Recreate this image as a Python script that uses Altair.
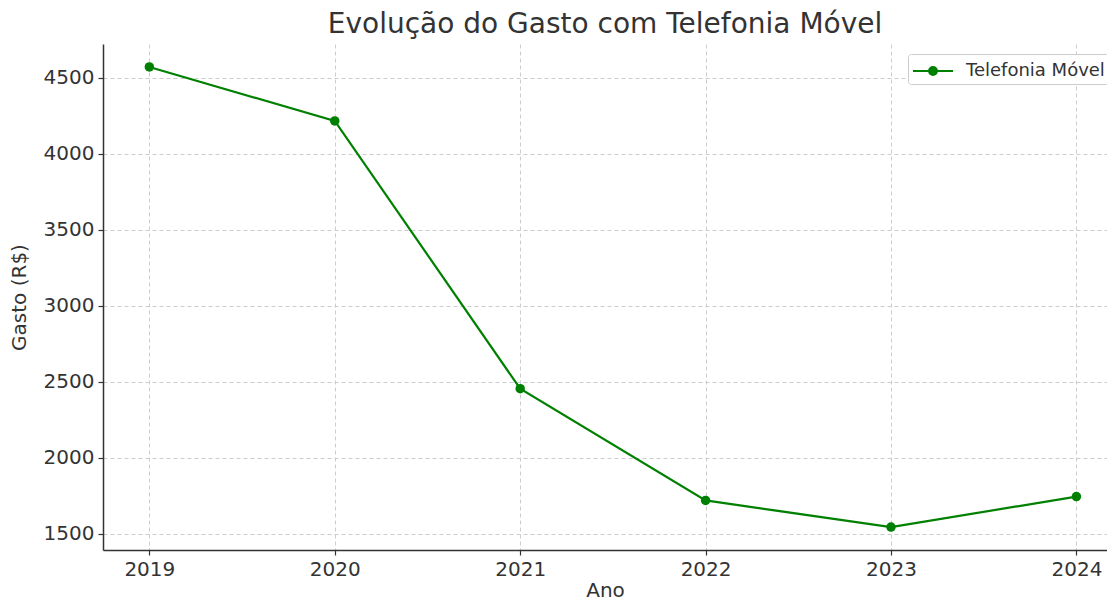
import altair as alt
import pandas as pd

anos = [2019, 2020, 2021, 2022, 2023, 2024]
gasto = [4570, 4215, 2455, 1720, 1545, 1745]
serie = ["Telefonia Móvel"] * len(anos)

df = pd.DataFrame({"Ano": anos, "Gasto": gasto, "Serie": serie})

FONT = "DejaVu Sans"
GREEN = "#008000"
TXT = "#333333"

x = alt.X("Ano:Q", scale=alt.Scale(domain=[2018.75, 2024.165], nice=False, zero=False),
          axis=alt.Axis(values=anos, format="d", title="Ano"))
y = alt.Y("Gasto:Q", scale=alt.Scale(domain=[1394, 4721], nice=False, zero=False),
          axis=alt.Axis(values=[1500, 2000, 2500, 3000, 3500, 4000, 4500], format="d",
                        title="Gasto (R$)"))
color = alt.Color("Serie:N", scale=alt.Scale(range=[GREEN]),
                  legend=alt.Legend(title=None, orient="none", legendX=805, legendY=10,
                                    symbolType="M -1.67 0 L -0.33 0 M 0.33 0 L 1.67 0 M 0.33 0 A 0.33 0.33 0 1 1 -0.33 0 A 0.33 0.33 0 1 1 0.33 0",
                                    symbolSize=576, symbolStrokeWidth=2,
                                    symbolOffset=8,
                                    symbolFillColor=GREEN, symbolStrokeColor=GREEN,
                                    labelFont=FONT, labelFontSize=18, labelColor=TXT,
                                    strokeColor="#cccccc", fillColor="white", cornerRadius=3,
                                    padding=4, rowPadding=0, labelOffset=20))

line = alt.Chart(df).mark_line(strokeWidth=2.2).encode(x=x, y=y, color=color)
pts = alt.Chart(df).mark_point(filled=True, size=90, opacity=1).encode(x=x, y=y, color=color)

chart = (line + pts).properties(
    width=1004, height=506,
    title=alt.TitleParams("Evolução do Gasto com Telefonia Móvel", font=FONT, fontSize=28,
                          fontWeight="normal", color=TXT, anchor="middle", offset=5),
    autosize=alt.AutoSizeParams(type="none"),
    padding={"left": 95, "top": 36, "right": 0, "bottom": 50},
).configure_view(stroke=None).configure_axis(
    labelFont=FONT, labelFontSize=20, labelColor=TXT,
    titleFont=FONT, titleFontSize=20, titleColor=TXT, titleFontWeight="normal",
    domainColor=TXT, domainWidth=1.5, tickColor=TXT, tickSize=5, tickWidth=1.2,
    gridColor="#cccccc", gridDash=[4, 3], gridWidth=1, labelPadding=4,
).configure_axisY(titlePadding=14).configure_axisX(titlePadding=1)

chart.save("out.html", embed_options={"renderer": "svg", "actions": False})
